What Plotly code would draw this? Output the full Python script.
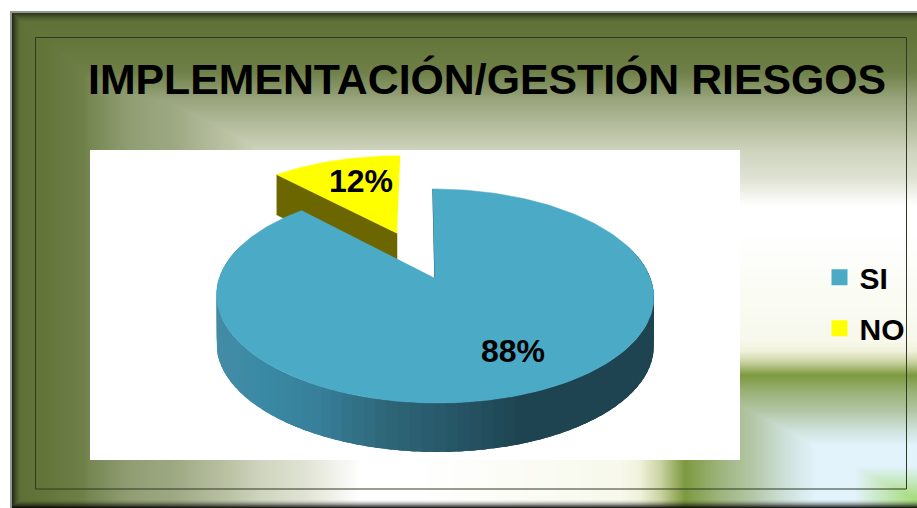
import base64, struct, zlib
import numpy as np
import plotly.graph_objects as go

# ---- data ----
categories = ["SI", "NO"]
values = [88, 12]
slice_colors = ["#4BAAC6", "#FFFF00"]
title_text = "IMPLEMENTACIÓN/GESTIÓN RIESGOS"
W, H = 917, 508

# ---- background ramps (hand estimated) ----
olive_pos = [0, .15, .30, .45, .61, .72, .86, 1]
olive_hex = "5f7036 66773c 6f8048 9aa67f bac2a4 cfd5bf e0e3d4 ffffff".split()
left_x = [12, 40, 60, 90, 130, 170, 230, 300, 360]
left_s = [0, .1, .2, .33, .42, .46, .62, .85, 1]
green_pos = [-1.0, 0, .1, .2, .33, .5, .68, .85, 1, 1.2, 1.5]
green_hex = "ffffff f8f9ec f0f2dc cdd5a5 7d9a40 9db37a b4c8a8 cfe2dc e2f3fb e2f3fb a8dc7e".split()


def rgb(hexes):
    return np.array([[int(c[i:i + 2], 16) for i in (0, 2, 4)] for c in hexes], float)


def ramp(s, pos, hexes):
    table = rgb(hexes)
    return np.stack([np.interp(s, pos, table[:, k]) for k in range(3)], -1)


def background():
    yy, xx = np.mgrid[0:H, 0:W].astype(float)
    s = np.minimum((yy - 14) / 191, np.interp(xx, left_x, left_s))
    q = np.minimum((xx - 620) / 195, (yy - 340) / 105)
    img = ramp(s, olive_pos, olive_hex) * ramp(q, green_pos, green_hex) / 255

    def shade(dist, strength, width):
        return np.clip(1 - dist / width, 0, 1) ** 1.6 * strength
    dark = np.zeros((H, W))
    dark = np.maximum(dark, shade(np.abs(xx - 12), 0.62, 9))
    dark = np.maximum(dark, shade(np.abs(yy - 13), 0.5, 9))
    dark = np.maximum(dark, shade(np.abs(yy - 507), 0.85, 8))
    img = img * (1 - dark[..., None])
    img[:, :10] = 255
    img[:12, :] = 255
    img[12:, 10:12] = [150, 150, 150]
    img[11:13, 10:] = [150, 150, 150]
    data = img.clip(0, 255).astype(np.uint8)
    raw = b"".join(b"\x00" + data[r].tobytes() for r in range(H))

    def chunk(t, d):
        return struct.pack(">I", len(d)) + t + d + struct.pack(">I", zlib.crc32(t + d) & 0xffffffff)
    png = b"\x89PNG\r\n\x1a\n" + chunk(b"IHDR", struct.pack(">IIBBBBB", W, H, 8, 2, 0, 0, 0)) + chunk(b"IDAT", zlib.compress(raw)) + chunk(b"IEND", b"")
    return "data:image/png;base64," + base64.b64encode(png).decode()


# ---- 3D pie projection ----
CX, CY, A, BB, K, SHEAR = 434.8, 278.0, 215.5, 104.0, 0.168, -2.34
EXPLODE = 0.5


def project(u, v):
    w = 1 + K * v
    return CX + (A * u + SHEAR * v) / w, CY - BB * v / w


total = sum(values)
si_sweep = 2 * np.pi * values[0] / total
no_sweep = 2 * np.pi * values[1] / total
fig = go.Figure()


def poly(x, y, color, lw=0.5):
    fig.add_trace(go.Scatter(x=list(x), y=list(y), mode="lines", fill="toself", fillcolor=color,
                             line=dict(color=color, width=lw), hoverinfo="skip", showlegend=False))


# exploded NO slice
mid = -no_sweep / 2
su, sv = EXPLODE * np.sin(mid), EXPLODE * np.cos(mid)
th = np.linspace(-no_sweep, 0, 40)
xn, yn = project(np.sin(th) + su, np.cos(th) + sv)
ax, ay = project(su, sv)
tip_x, tip_y = xn[0], yn[0]


def d_no(v):
    return 44 / np.sqrt(1 + K * v)


tip_v = np.cos(-no_sweep) + sv
poly([tip_x, ax, ax, tip_x], [tip_y, ay, ay + d_no(sv), tip_y + d_no(tip_v)], "#6B6600")
poly(np.r_[ax, xn], np.r_[ay, yn], slice_colors[1])

# SI slice: wall in overlapping strips, shaded across the width
DEPTH = 49
stops_x = [217, 270, 330, 400, 450, 530, 655]
stops_rgb = np.array([[70, 140, 165], [58, 138, 165], [56, 126, 152], [46, 101, 119], [40, 90, 107], [31, 68, 81], [31, 68, 81]], float)
edges = np.linspace(0, si_sweep, 121)
step = edges[1] - edges[0]
for a in edges[:-1][::-1]:
    t = np.linspace(a, a + 2.5 * step, 5)
    t = t[t <= si_sweep]
    x, y = project(np.sin(t), np.cos(t))
    if y.mean() < CY - 30:
        continue
    c = [int(np.interp(x.mean(), stops_x, stops_rgb[:, k])) for k in range(3)]
    poly(np.r_[x, x[::-1]], np.r_[y, y[::-1] + DEPTH], f"rgb({c[0]},{c[1]},{c[2]})", lw=0)
# cut face next to the gap
x0, y0 = project(0.0, 1.0)
fig.add_trace(go.Scatter(x=[x0, CX], y=[y0, CY], mode="lines", line=dict(color="#1F4A58", width=1),
                         hoverinfo="skip", showlegend=False))
th = np.linspace(0, si_sweep, 240)
xs_, ys_ = project(np.sin(th), np.cos(th))
poly(np.r_[CX, xs_], np.r_[CY, ys_], slice_colors[0])

# legend keys
for name, col in zip(categories, slice_colors):
    fig.add_trace(go.Scatter(x=[None], y=[None], mode="markers", name=name, legendgroup=name,
                             marker=dict(symbol="square", size=17, color=col), showlegend=True))

annotations = [
    dict(x=513, y=351, text=f"<b>{values[0]}%</b>", size=32),
    dict(x=361, y=181, text=f"<b>{values[1]}%</b>", size=32),
    dict(x=486.5, y=79, text=f"<b>{title_text}</b>", size=42.8),
]
annotations = [dict(x=a["x"], y=a["y"], text=a["text"], showarrow=False, xref="x", yref="y",
                    font=dict(size=a["size"], family="Liberation Sans", color="black")) for a in annotations]

fig.update_layout(
    width=W, height=H, autosize=False,
    margin=dict(l=0, r=0, t=0, b=0),
    paper_bgcolor="white", plot_bgcolor="rgba(0,0,0,0)",
    xaxis=dict(range=[0, W], visible=False, fixedrange=True),
    yaxis=dict(range=[H, 0], visible=False, fixedrange=True),
    images=[dict(source=background(), xref="x", yref="y", x=0, y=0, sizex=W, sizey=H,
                 sizing="stretch", xanchor="left", yanchor="top", layer="below")],
    shapes=[
        dict(type="rect", xref="x", yref="y", x0=90, y0=150, x1=740, y1=460, fillcolor="white", line_width=0, layer="between"),
        dict(type="rect", xref="x", yref="y", x0=35.5, y0=37.5, x1=906.5, y1=489, line=dict(color="#2E3A22", width=1), layer="between"),
    ],
    annotations=annotations,
    legend=dict(x=0.8937, xanchor="left", y=0.404, yanchor="middle", bgcolor="rgba(0,0,0,0)", borderwidth=0,
                font=dict(size=30, family="Liberation Sans", color="black", weight="bold"),
                tracegroupgap=9, itemwidth=30, itemclick=False, itemdoubleclick=False),
    showlegend=True,
)
fig.write_html("out.html", config=dict(displayModeBar=False),
               post_script="document.body.style.margin='0';document.documentElement.style.overflow='hidden';")
